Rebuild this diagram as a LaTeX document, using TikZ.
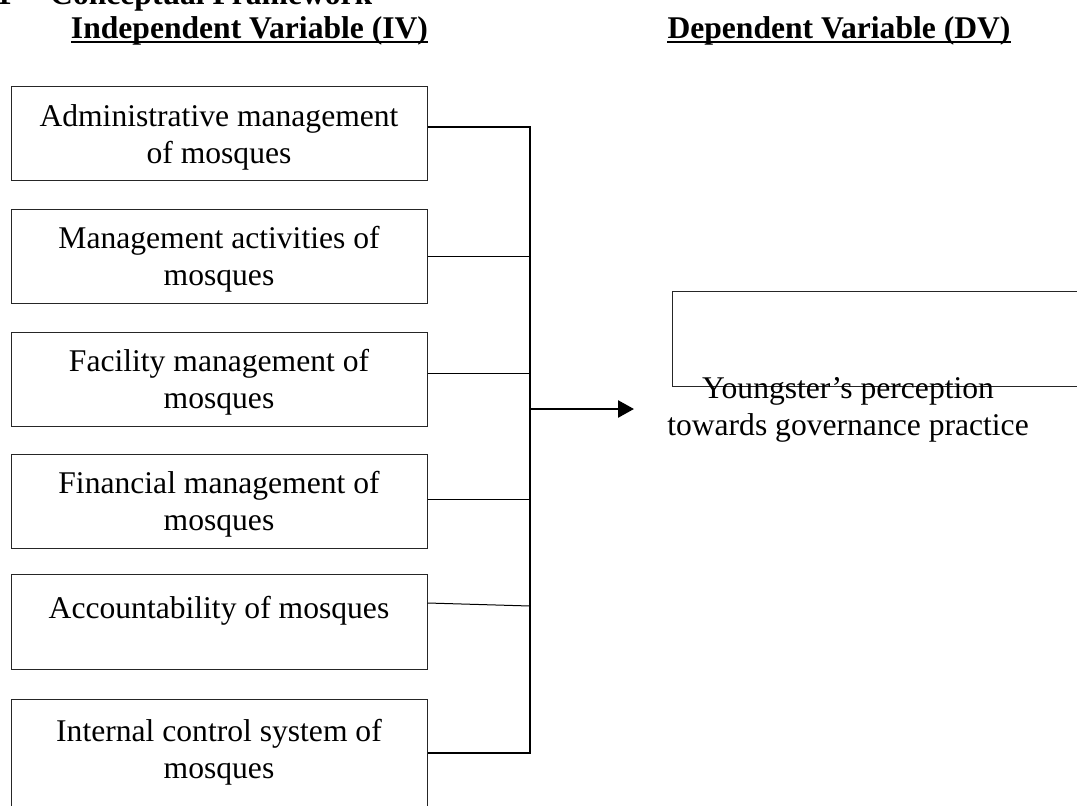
\documentclass[tikz,border=0pt]{standalone}
\usepackage{fontspec}
\setmainfont{Liberation Serif}
\usetikzlibrary{arrows.meta}
\newcommand\bodyfont{\fontsize{31.6}{37}\selectfont}
\tikzset{
  box/.style={draw=black!85, line width=1pt, minimum width=416pt, inner sep=0pt},
  label text/.style={inner sep=0pt, align=center, font=\bodyfont},
  heading/.style={inner sep=0pt, anchor=base, font=\bodyfont\bfseries},
  thin link/.style={line width=1pt},
  thick link/.style={line width=2.6pt},
  rule/.style={line width=2.6pt},
}
\begin{document}
\begin{tikzpicture}[x=1pt, y=-1pt]
\useasboundingbox (0,0) rectangle (1077,806);

% section title (partly above the page edge)
\node[heading, anchor=base east] (num) at (12,4) {1};
\node[heading, anchor=base west] (title) at (50,4) {Conceptual Framework};

% column headings
\node[heading] (iv) at (249.5,38) {Independent Variable (IV)};
\node[heading] (dv) at (839,38) {Dependent Variable (DV)};
\draw[rule] ([yshift=-4pt]iv.base west) -- ([yshift=-4pt]iv.base east);
\draw[rule] ([yshift=-4pt]dv.base west) -- ([yshift=-4pt]dv.base east);

% independent variables
\node[box, minimum height=94pt] (b1) at (219,133) {};
\node[box, minimum height=94pt] (b2) at (219,256) {};
\node[box, minimum height=94pt] (b3) at (219,379) {};
\node[box, minimum height=94pt] (b4) at (219,501) {};
\node[box, minimum height=95pt] (b5) at (219,621.5) {};
\node[box, minimum height=151pt] (b6) at (219,774.5) {};

\node[label text] (t1) at (219,137) {Administrative management\\of mosques};
\node[label text] (t2) at (219,259) {Management activities of\\mosques};
\node[label text] (t3) at (219,382) {Facility management of\\mosques};
\node[label text] (t4) at (219,504) {Financial management of\\mosques};
\node[label text] (t5) at (219,611) {Accountability of mosques};
\node[label text] (t6) at (219,752) {Internal control system of\\mosques};

% collecting bus
\coordinate (bus1) at (530,127);
\coordinate (bus2) at (530,256);
\coordinate (bus3) at (530,373);
\coordinate (bus4) at (530,499);
\coordinate (bus5) at (530,606);
\coordinate (bus6) at (530,753);
\coordinate (busout) at (530,409);
\coordinate (tip) at (634,409);

\draw[thick link, line join=miter] (b1.east |- bus1) -- (bus1) -- (bus6) -- (b6.east |- bus6);
\draw[thin link] (b2.east |- bus2) -- (bus2);
\draw[thin link] (b3.east |- bus3) -- (bus3);
\draw[thin link] (b4.east |- bus4) -- (bus4);
\draw[thin link] (b5.east |- 0,603) -- (bus5);
\draw[thick link, -{Triangle[length=16pt, width=17pt]}] (busout) -- (tip);

% dependent variable
\node[box, minimum width=420pt, minimum height=95pt] (dvbox) at (882,338.5) {};
\node[label text] (dvt) at (848,410) {Youngster’s perception\\towards governance practice};
\end{tikzpicture}
\end{document}
